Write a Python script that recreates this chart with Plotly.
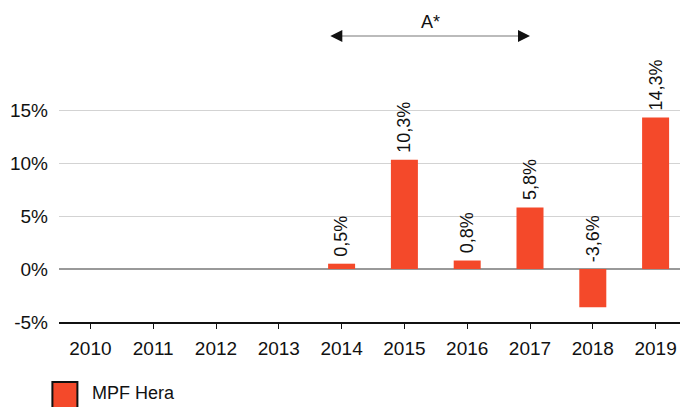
import plotly.graph_objects as go

years = ["2010", "2011", "2012", "2013", "2014", "2015", "2016", "2017", "2018", "2019"]
values = [None, None, None, None, 0.5, 10.3, 0.8, 5.8, -3.6, 14.3]
labels = [None, None, None, None, "0,5%", "10,3%", "0,8%", "5,8%", "-3,6%", "14,3%"]
y_ticks = [-5, 0, 5, 10, 15]
y_tick_text = ["-5%", "0%", "5%", "10%", "15%"]
series_name = "MPF Hera"
bar_color = "#F4492A"

W, H = 688, 407
OFF = 8  # page body margin in the browser
# desired plot area in screen pixels
SL, SR, ST, SB = 58.6, 686.6, 57, 322
pw, ph = SR - SL, SB - ST
L, T = SL - OFF, ST - OFF
R = W - L - pw
B = H - T - ph

def px_x(px):
    return (px - SL) / pw

def px_y(py):
    return (SB - py) / ph

fig = go.Figure()
fig.add_trace(go.Bar(
    x=list(range(len(years))), y=values, marker=dict(color=bar_color, line=dict(width=0)),
    width=0.43, name=series_name, showlegend=False,
))

annotations = []
for i, (v, t) in enumerate(zip(values, labels)):
    if v is None:
        continue
    annotations.append(dict(
        x=i, y=max(v, 0), xref="x", yref="y", text=t, textangle=-90,
        showarrow=False, yanchor="bottom", xanchor="center", yshift=5,
        font=dict(size=18, color="#111"),
    ))

# arrow heads
arrow_y = px_y(36)
for xa, dx in [(3.82, 10), (7.0, -10)]:
    annotations.append(dict(
        x=xa, y=arrow_y, xref="x", yref="paper", ax=dx, ay=0, axref="pixel", ayref="pixel",
        showarrow=True, arrowhead=2, arrowsize=1.2, arrowwidth=2, arrowcolor="#111", text="",
        standoff=0,
    ))
annotations.append(dict(
    x=(3.82 + 7.0) / 2, y=arrow_y, xref="x", yref="paper", text="A*", showarrow=False,
    yanchor="bottom", yshift=2, font=dict(size=18, color="#111"),
))
annotations.append(dict(
    x=px_x(90), y=px_y(393), xref="paper", yref="paper", text=series_name, showarrow=False,
    xanchor="left", yanchor="middle", font=dict(size=18, color="#111"),
))

shapes = [
    dict(type="line", xref="x", yref="paper", x0=3.9, x1=6.9, y0=arrow_y, y1=arrow_y,
         line=dict(color="#BBBBBB", width=2)),
    dict(type="rect", xref="paper", yref="paper", x0=px_x(52), x1=px_x(77), y0=px_y(382), y1=px_y(412),
         fillcolor=bar_color, line=dict(color="#111", width=2)),
]

fig.update_layout(
    width=W, height=H, margin=dict(l=L, r=R, t=T, b=B, autoexpand=False),
    paper_bgcolor="white", plot_bgcolor="white",
    font=dict(family="Liberation Sans, Arial, sans-serif", size=19, color="#111"),
    annotations=annotations, shapes=shapes, showlegend=False,
)
fig.update_xaxes(
    tickmode="array", tickvals=list(range(len(years))), ticktext=years,
    range=[-0.5, len(years) - 0.5], showgrid=False, zeroline=False,
    showline=True, linecolor="#111", linewidth=1.5, ticks="outside", ticklen=5, tickcolor="#111",
    tickfont=dict(size=19), ticklabelstandoff=3,
)
fig.update_yaxes(
    range=[-5, 20], tickvals=y_ticks, ticktext=y_tick_text, showgrid=True,
    gridcolor="#D3D3D3", gridwidth=1, zeroline=True, zerolinecolor="#999999", zerolinewidth=1.5,
    showline=False, ticks="", ticklabelstandoff=10, tickfont=dict(size=19),
)
fig.write_html("out.html")
